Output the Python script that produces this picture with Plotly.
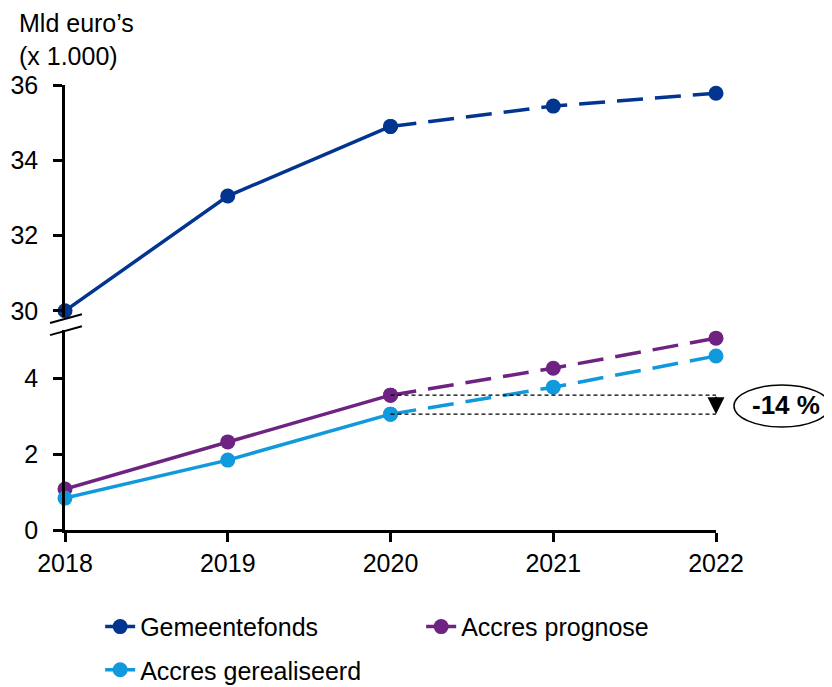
import plotly.graph_objects as go

years = [2018, 2019, 2020, 2021, 2022]
gemeentefonds = [30.0, 33.05, 34.9, 35.44, 35.78]
accres_prognose = [1.08, 2.32, 3.55, 4.26, 5.05]
accres_gerealiseerd = [0.84, 1.84, 3.05, 3.76, 4.58]

top_ticks = [30, 32, 34, 36]
bottom_ticks = [0, 2, 4]

C_GF = "#02358F"
C_AP = "#6E2382"
C_AG = "#1199DD"
FONT = "Liberation Sans, Arial, sans-serif"
FS = 25

fig = go.Figure()

series = [
    ("Gemeentefonds", gemeentefonds, C_GF, "y2", "legend"),
    ("Accres prognose", accres_prognose, C_AP, "y", "legend"),
    ("Accres gerealiseerd", accres_gerealiseerd, C_AG, "y", "legend2"),
]
split = 2  # index of 2020
for name, vals, col, ya, lg in series:
    fig.add_trace(go.Scatter(
        x=years[:split + 1], y=vals[:split + 1], name=name, yaxis=ya, legend=lg,
        mode="lines+markers", line=dict(color=col, width=3.5),
        marker=dict(color=col, size=15), cliponaxis=False))
    fig.add_trace(go.Scatter(
        x=years[split:], y=vals[split:], name=name, yaxis=ya, showlegend=False,
        mode="lines+markers", line=dict(color=col, width=3.5, dash="26px,12px"),
        marker=dict(color=col, size=15), cliponaxis=False))

# reference dotted lines
for v in (accres_prognose[split], accres_gerealiseerd[split]):
    fig.add_shape(type="line", xref="x", yref="y", x0=years[split], x1=2022.07,
                  y0=v, y1=v, line=dict(color="black", width=1.2, dash="4px,3px"))

fig.add_annotation(x=years[-1], y=accres_gerealiseerd[split], xref="x", yref="y",
                   ax=years[-1], ay=accres_prognose[split], axref="x", ayref="y",
                   showarrow=True, arrowhead=2, arrowsize=1.7, arrowwidth=2,
                   arrowcolor="black", text="")

fig.add_shape(type="circle", xref="paper", yref="paper", x0=1.0276, x1=1.175,
              y0=0.2315, y1=0.3258, line=dict(color="black", width=1.5),
              fillcolor="white", layer="above")
fig.add_annotation(x=1.107, y=0.281, xref="paper", yref="paper", text="<b>-14 %</b>",
                   showarrow=False, xanchor="center", yanchor="middle",
                   font=dict(family=FONT, size=26, color="black"))

# axis break marks
for y0, y1 in ((0.465, 0.485), (0.438, 0.458)):
    fig.add_shape(type="line", xref="paper", yref="paper", x0=-0.023, x1=0.026,
                  y0=y0, y1=y1, line=dict(color="black", width=2))

fig.add_annotation(xref="paper", yref="paper", x=-0.074, y=1.176,
                   xanchor="left", yanchor="top", align="left", showarrow=False,
                   text="Mld euro’s<br>(x 1.000)",
                   font=dict(family=FONT, size=FS, color="black"))

axis_common = dict(showgrid=False, zeroline=False, showline=True, linecolor="black",
                   linewidth=2.5, ticks="outside", ticklen=9, tickwidth=2.5,
                   tickcolor="black", tickfont=dict(family=FONT, size=FS, color="black"))

legend_common = dict(orientation="h", xanchor="left", yanchor="top",
                     font=dict(family=FONT, size=FS, color="black"),
                     bgcolor="rgba(0,0,0,0)")

fig.update_layout(
    width=832, height=687, plot_bgcolor="white", paper_bgcolor="white",
    margin=dict(l=57, r=124, t=77, b=165, autoexpand=False),
    font=dict(family=FONT, size=FS, color="black"),
    xaxis=dict(range=[2018, 2022], tickvals=years, anchor="y", **axis_common),
    yaxis=dict(domain=[0, 0.449], range=[0, 5.26], tickvals=bottom_ticks,
               ticklabelstandoff=10, **axis_common),
    yaxis2=dict(domain=[0.479, 1], range=[29.84, 36], tickvals=top_ticks,
                anchor="x", ticklabelstandoff=10, **axis_common),
    legend=dict(x=0.054, y=-0.166, entrywidth=276, **legend_common),
    legend2=dict(x=0.054, y=-0.263, **legend_common),
    showlegend=True,
)

fig.write_html("out.html")
